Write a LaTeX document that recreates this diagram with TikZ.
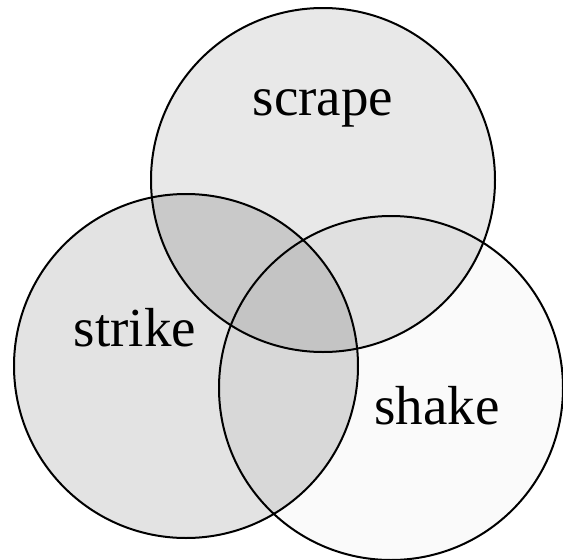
\documentclass[tikz,border=0pt]{standalone}
\usepackage{fontspec}
\setmainfont{Liberation Serif}
\definecolor{cA}{HTML}{E8E8E8}
\definecolor{cB}{HTML}{E3E3E3}
\definecolor{cC}{HTML}{FAFAFA}
\definecolor{cAB}{HTML}{C9C9C9}
\definecolor{cAC}{HTML}{E0E0E0}
\definecolor{cBC}{HTML}{D8D8D8}
\definecolor{cABC}{HTML}{C4C4C4}
\begin{document}
\begin{tikzpicture}[x=1pt,y=-1pt,
  ring/.style={draw=black,line width=2pt},
  lbl/.style={font=\fontsize{55}{60}\selectfont,anchor=base,inner sep=0pt}]
\useasboundingbox (0,0) rectangle (563,560);
\coordinate (A) at (323,180);
\coordinate (B) at (186,366);
\coordinate (C) at (391,388);
\def\R{172pt}
% single fills
\fill[cA] (A) circle (\R);
\fill[cB] (B) circle (\R);
\fill[cC] (C) circle (\R);
% pairwise
\begin{scope}
  \clip (A) circle (\R);
  \fill[cAB] (B) circle (\R);
  \fill[cAC] (C) circle (\R);
\end{scope}
\begin{scope}
  \clip (B) circle (\R);
  \fill[cBC] (C) circle (\R);
\end{scope}
\begin{scope}
  \clip (A) circle (\R);
  \clip (B) circle (\R);
  \fill[cABC] (C) circle (\R);
\end{scope}
% outlines
\draw[ring] (A) circle (\R);
\draw[ring] (B) circle (\R);
\draw[ring] (C) circle (\R);
% labels
\node[lbl] (scrape) at (323,115) {scrape};
\node[lbl] (strike) at (135,346) {strike};
\node[lbl] (shake) at (437,424) {shake};
\end{tikzpicture}
\end{document}
